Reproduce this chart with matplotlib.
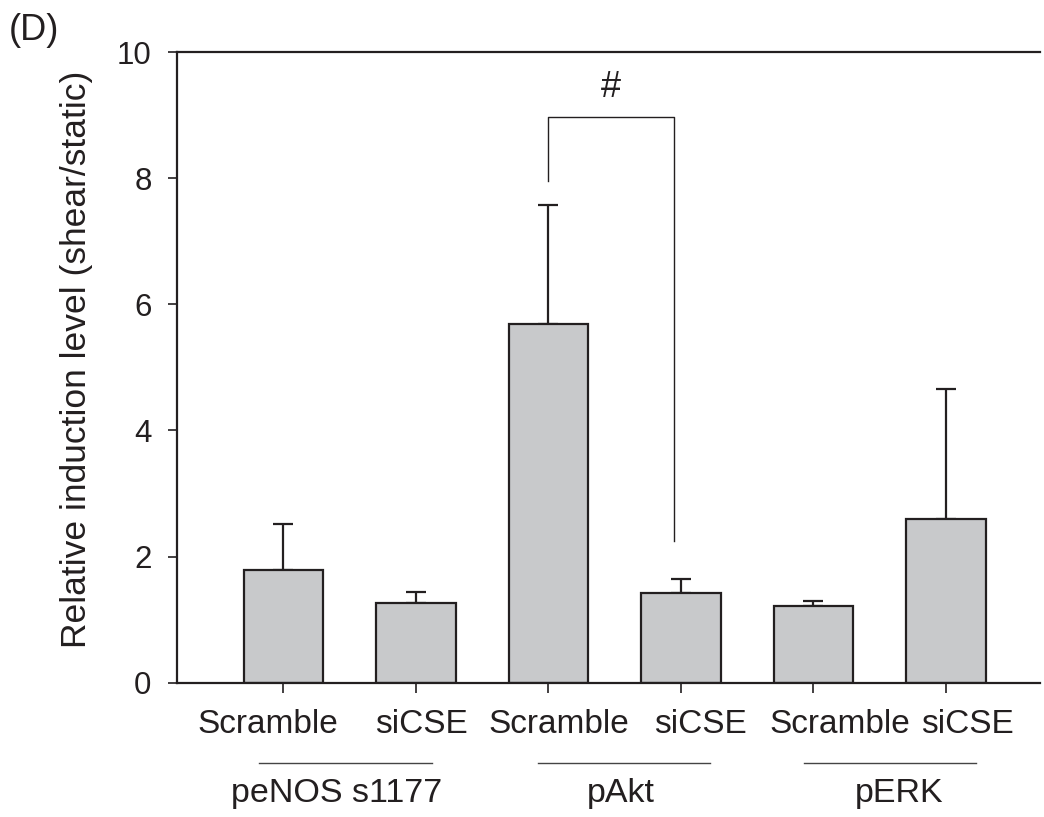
import matplotlib
matplotlib.use("Agg")
import matplotlib.pyplot as plt
import matplotlib.transforms as mtransforms
from matplotlib.lines import Line2D
import numpy as np

# ---- data ----
conditions = ["Scramble", "siCSE", "Scramble", "siCSE", "Scramble", "siCSE"]
groups = ["peNOS s1177", "pAkt", "pERK"]
means = [1.79, 1.27, 5.69, 1.43, 1.21, 2.59]
errors = [0.72, 0.17, 1.89, 0.22, 0.09, 2.07]
y_ticks = [0, 2, 4, 6, 8, 10]
sig_label = "#"

plt.rcParams['font.family'] = ['Liberation Sans', 'DejaVu Sans']

fig = plt.figure(figsize=(10.44, 8.17), dpi=100)
ax = fig.add_axes([177.3/1044, 1-682.7/817, (1040-177.3)/1044, (682.7-52)/817])

edge = '#231f20'
x = np.arange(len(means))
ax.bar(x, means, width=0.6, color='#c8c9cb', edgecolor=edge, linewidth=1.6, zorder=2)
ax.errorbar(x, means, yerr=[np.zeros(len(errors)), errors], fmt='none',
            ecolor=edge, elinewidth=1.6, capsize=7, capthick=1.6, zorder=1)

ax.set_xlim(-0.80, 5.71)
ax.set_ylim(0, 10)
ax.set_yticks(y_ticks)
ax.set_yticklabels([str(v) for v in y_ticks])
ax.set_xticks(x)
ax.set_xticklabels([])
ax.tick_params(axis='y', direction='out', length=6.5, width=1.2, labelsize=22.5, pad=12, colors=edge)
ax.tick_params(axis='x', direction='out', length=7, width=1.2, colors=edge)
for s in ['left', 'bottom', 'top']:
    ax.spines[s].set_linewidth(1.6)
    ax.spines[s].set_color(edge)
ax.spines['right'].set_visible(False)

fig.text(77/1044, 1-359/817, "Relative induction level (shear/static)", rotation=90,
         ha='center', va='center', fontsize=25.5, color=edge)
fig.text(9/1044, 1-31/817, "(D)", ha='left', va='center', fontsize=26, color=edge)

# condition labels (positioned like the original, slightly off their ticks)
cond_dx = [-0.12, 0.04, 0.08, 0.15, 0.20, 0.16]
t_cond = mtransforms.offset_copy(ax.get_xaxis_transform(), fig=fig, y=-36.2, units='points')
for xi, dx, lab in zip(x, cond_dx, conditions):
    ax.text(xi + dx, 0, lab, transform=t_cond, ha='center', va='baseline',
            fontsize=24, color=edge, clip_on=False)

# group lines and labels
group_centers = [0.5, 2.5, 4.5]
line_dx = [-0.03, 0.07, 0.08]
label_dx = [-0.10, 0.05, 0.15]
t_line = mtransforms.offset_copy(ax.get_xaxis_transform(), fig=fig, y=-58, units='points')
t_grp = mtransforms.offset_copy(ax.get_xaxis_transform(), fig=fig, y=-85.7, units='points')
for gc, ldx, tdx, g in zip(group_centers, line_dx, label_dx, groups):
    ax.add_line(Line2D([gc + ldx - 0.65, gc + ldx + 0.65], [0, 0], transform=t_line,
                       color='#444444', lw=1.0, clip_on=False))
    ax.text(gc + tdx, 0, g, transform=t_grp, ha='center', va='baseline',
            fontsize=24.5, color=edge, clip_on=False)

# significance bracket between pAkt Scramble and siCSE
ax.plot([2, 2, 2.95, 2.95], [7.95, 8.97, 8.97, 2.25], color=edge, lw=1.0, zorder=3)
ax.text(2.47, 9.44, sig_label, ha='center', va='center', fontsize=26, color=edge)

fig.savefig("out.png", dpi=100)
